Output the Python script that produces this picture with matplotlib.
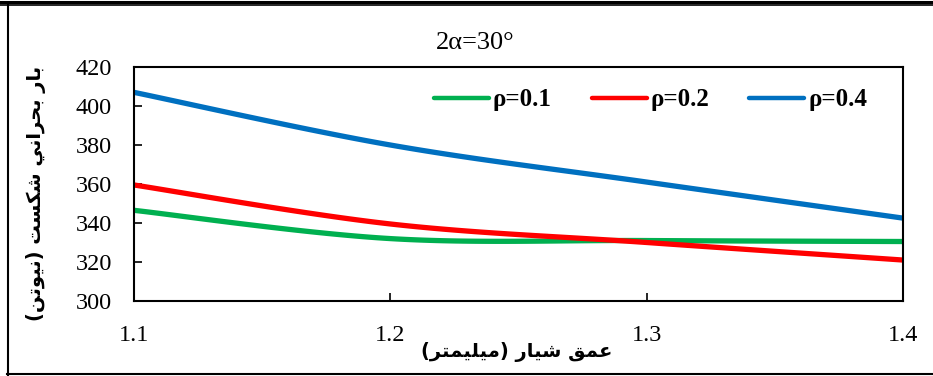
import numpy as np
import matplotlib.pyplot as plt
from matplotlib.lines import Line2D

# عمق شیار (mm) و بار بحرانی شکست (N)
depth = [1.1, 1.2, 1.3, 1.4]
load_rho01 = [346.5, 332.0, 331.0, 330.5]
load_rho02 = [359.5, 339.5, 330.0, 321.0]
load_rho04 = [407.0, 380.0, 361.0, 342.5]

series_labels = ['ρ=0.1', 'ρ=0.2', 'ρ=0.4']
series_colors = ['#00B050', '#FF0000', '#0070C0']

title_text = '2α=30°'
xlabel_text = 'عمق شیار (میلیمتر)'
ylabel_text = 'بار بحرانی شکست (نیوتن)'
xticks = [1.1, 1.2, 1.3, 1.4]
yticks = [300, 320, 340, 360, 380, 400, 420]

# matplotlib حروف عربی را شکل‌دهی نمی‌کند؛ فرم‌های نمایشی را خودمان می‌سازیم
FORMS = {  # isolated, final, initial, medial
    'ا': (0xFE8D, 0xFE8E, None, None),
    'ب': (0xFE8F, 0xFE90, 0xFE91, 0xFE92),
    'ت': (0xFE95, 0xFE96, 0xFE97, 0xFE98),
    'ح': (0xFEA1, 0xFEA2, 0xFEA3, 0xFEA4),
    'ر': (0xFEAD, 0xFEAE, None, None),
    'س': (0xFEB1, 0xFEB2, 0xFEB3, 0xFEB4),
    'ش': (0xFEB5, 0xFEB6, 0xFEB7, 0xFEB8),
    'ع': (0xFEC9, 0xFECA, 0xFECB, 0xFECC),
    'ق': (0xFED5, 0xFED6, 0xFED7, 0xFED8),
    'ك': (0xFED9, 0xFEDA, 0xFEDB, 0xFEDC),
    'ل': (0xFEDD, 0xFEDE, 0xFEDF, 0xFEE0),
    'م': (0xFEE1, 0xFEE2, 0xFEE3, 0xFEE4),
    'ن': (0xFEE5, 0xFEE6, 0xFEE7, 0xFEE8),
    'و': (0xFEED, 0xFEEE, None, None),
    'ي': (0xFEF1, 0xFEF2, 0xFEF3, 0xFEF4),
}


def shape(text):
    text = text.replace('ی', 'ي').replace('ک', 'ك')
    out = []
    for i, ch in enumerate(text):
        if ch not in FORMS:
            out.append(ch)
            continue
        prev = text[i - 1] if i > 0 else ''
        nxt = text[i + 1] if i + 1 < len(text) else ''
        iso, fin, ini, med = FORMS[ch]
        join_prev = prev in FORMS and FORMS[prev][2] is not None
        join_next = ini is not None and nxt in FORMS
        if join_prev and join_next:
            code = med
        elif join_prev:
            code = fin
        elif join_next:
            code = ini
        else:
            code = iso
        out.append(chr(code))
    visual = ''.join(reversed(out))
    return visual.translate(str.maketrans('()', ')('))


def smooth(xs, ys, n=40):
    # منحنی هموار به سبک اکسل (بزیه با نقاط کنترل کاتمول-رام)
    p = np.column_stack([xs, ys]).astype(float)
    pts = []
    for i in range(len(p) - 1):
        p0 = p[i - 1] if i > 0 else p[i]
        p3 = p[i + 2] if i + 2 < len(p) else p[i + 1]
        c1 = p[i] + (p[i + 1] - p0) / 6
        c2 = p[i + 1] - (p3 - p[i]) / 6
        t = np.linspace(0, 1, n)[:, None]
        seg = ((1 - t) ** 3 * p[i] + 3 * (1 - t) ** 2 * t * c1
               + 3 * (1 - t) * t ** 2 * c2 + t ** 3 * p[i + 1])
        pts.append(seg if i == 0 else seg[1:])
    pts = np.vstack(pts)
    return pts[:, 0], pts[:, 1]


plt.rcParams['font.family'] = ['Liberation Serif', 'DejaVu Sans']

fig = plt.figure(figsize=(9.33, 3.76), dpi=100)
ax = fig.add_axes([0.1436, 0.1995, 0.8242, 0.6223])

for ys, lab, col in zip([load_rho01, load_rho02, load_rho04], series_labels, series_colors):
    sx, sy = smooth(depth, ys)
    ax.plot(sx, sy, color=col, lw=3.8, label=lab, solid_capstyle='butt')

ax.set_xlim(1.1, 1.4)
ax.set_ylim(300, 420)
ax.set_xticks(xticks)
ax.set_yticks(yticks)
ax.set_xticklabels([f'{v:.1f}' for v in xticks])
ax.tick_params(direction='in', length=6, width=1.2, labelsize=17.5)
ax.tick_params(axis='y', pad=16)
ax.tick_params(axis='x', pad=17)
for s in ax.spines.values():
    s.set_linewidth(1.5)

leg = ax.legend(loc='center', bbox_to_anchor=(0.672, 0.86), ncol=3, frameon=False,
                handlelength=2.2, handletextpad=0.15, columnspacing=1.6,
                prop={'family': 'Liberation Serif', 'weight': 'bold', 'size': 18})
for h in leg.legend_handles:
    h.set_solid_capstyle('round')
    h.set_linewidth(3.2)

fig.text(475 / 933, 1 - 43 / 376, title_text, ha='center', va='center', fontsize=19)
fig.text(517 / 933, 1 - 352 / 376, shape(xlabel_text), ha='center', va='center',
         fontsize=14, fontweight='bold', family='DejaVu Sans')
fig.text(36 / 933, 1 - 193 / 376, shape(ylabel_text), ha='center', va='center',
         rotation=90, fontsize=14, fontweight='bold', family='DejaVu Sans')

# قاب دور نمودار
W, H = 933, 376
fig.add_artist(Line2D([0, 1], [1 - 1.5 / H] * 2, transform=fig.transFigure, color='black', lw=2.2))
fig.add_artist(Line2D([0, 1], [1 - 4.8 / H] * 2, transform=fig.transFigure, color='black', lw=1.2))
fig.add_artist(Line2D([8 / W] * 2, [1 - 5 / H, 1 - 374.5 / H], transform=fig.transFigure, color='black', lw=1.5))
fig.add_artist(Line2D([7.5 / W, 1], [1 - 373.5 / H] * 2, transform=fig.transFigure, color='black', lw=1.5))

fig.savefig('out.png', dpi=100)
